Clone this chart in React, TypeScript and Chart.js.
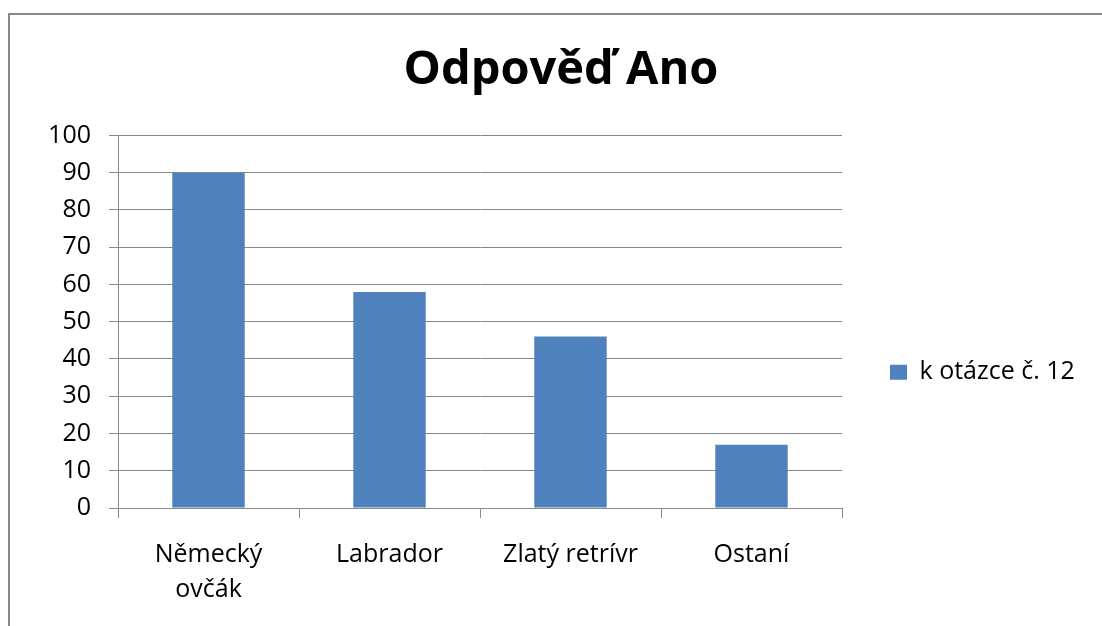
import React, { useEffect, useRef } from "react";
import { Chart, registerables } from "chart.js";

Chart.register(...registerables);

const chartTitle = "Odpověď Ano";
const categories: (string | string[])[] = [["Německý", "ovčák"], "Labrador", "Zlatý retrívr", "Ostaní"];
const seriesName = "k otázce č. 12";
const seriesValues = [90, 58, 46, 17];
const yMin = 0;
const yMax = 100;
const yStep = 10;

const FONT = "'Open Sans', sans-serif";

export default function App() {
  const ref = useRef<HTMLCanvasElement>(null);

  useEffect(() => {
    const pad = { left: 44, right: 24, top: 0, bottom: 0 };
    const chart = new Chart(ref.current!, {
      type: "bar",
      data: {
        labels: categories,
        datasets: [
          {
            label: seriesName,
            data: seriesValues,
            backgroundColor: "#4F81BD",
            borderWidth: 0,
            barPercentage: 0.4,
            categoryPercentage: 1,
          },
        ],
      },
      options: {
        responsive: false,
        animation: false,
        devicePixelRatio: 1,
        layout: { padding: pad },
        plugins: {
          title: {
            display: true,
            text: chartTitle,
            color: "#000",
            font: { family: FONT, size: 47, weight: "bold" },
            padding: { top: 42, bottom: 37 },
          },
          legend: {
            position: "right",
            align: "center",
            title: {
              display: true,
              text: " ",
              font: { family: FONT, size: 2 },
              padding: { top: 0, bottom: 116 },
            },
            labels: {
              boxWidth: 17,
              boxHeight: 15,
              padding: 48,
              color: "#000",
              font: { family: FONT, size: 25 },
            },
          },
          tooltip: { enabled: false },
        },
        scales: {
          x: {
            grid: { drawOnChartArea: false, tickLength: 10, color: "#888", offset: true },
            border: { color: "#888" },
            ticks: {
              color: "#000",
              font: { family: FONT, size: 25, lineHeight: 1.4 },
              padding: 19,
              maxRotation: 0,
              autoSkip: false,
            },
            afterFit: (s: any) => {
              s.height = 118;
            },
          },
          y: {
            min: yMin,
            max: yMax,
            ticks: { stepSize: yStep, color: "#000", font: { family: FONT, size: 25 }, padding: 18 },
            grid: { color: "#888", tickLength: 9 },
            border: { color: "#888" },
            afterFit: (s: any) => {
              s.width = 118 - pad.left;
            },
          },
        },
      },
    } as any);

    for (let i = 0; i < 4; i++) {
      const d = chart.chartArea.right - 842;
      if (Math.abs(d) < 0.5) break;
      pad.right = Math.max(0, pad.right + d);
      pad.left = Math.min(60, pad.right + 20);
      chart.update();
    }

    return () => chart.destroy();
  }, []);

  return (
    <>
      <div
        style={{
          position: "fixed",
          left: 8,
          top: 13,
          width: 2000,
          height: 2000,
          borderTop: "2px solid #888",
          borderLeft: "2px solid #888",
        }}
      />
      <canvas
        ref={ref}
        width={1102}
        height={626}
        style={{ position: "fixed", left: 0, top: 0, display: "block" }}
      />
    </>
  );
}
